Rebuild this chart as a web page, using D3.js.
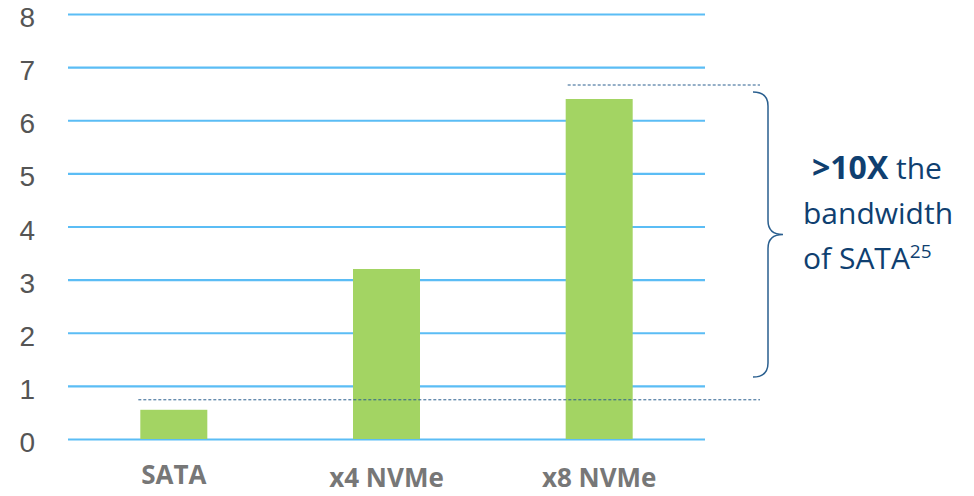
<!DOCTYPE html>
<html>
<head>
<meta charset="utf-8">
<script src="https://cdn.jsdelivr.net/npm/d3@7"></script>
<style>
  body { margin: 0; background: #fff; }
  svg { display: block; font-family: "Open Sans", "Noto Sans", sans-serif; }
</style>
</head>
<body>
<div class="chart"></div>
<script>
var categories = ["SATA", "x4 NVMe", "x8 NVMe"];
var bandwidth = [0.55, 3.2, 6.4];
var yTicks = [0, 1, 2, 3, 4, 5, 6, 7, 8];

var width = 974, height = 496;

var svg = d3.select("div.chart").append("svg")
  .attr("width", width)
  .attr("height", height);

var xScale = d3.scaleBand()
  .domain(categories)
  .range([68, 705])
  .paddingInner(0.685)
  .paddingOuter(0.34);

var yScale = d3.scaleLinear()
  .domain([0, 8])
  .range([439, 14]);

// gridlines
var yAxis = d3.axisLeft(yScale)
  .tickValues(yTicks)
  .tickSize(-(705 - 68))
  .tickPadding(33);

var yG = svg.append("g")
  .attr("transform", "translate(68,0)")
  .call(yAxis);
yG.select(".domain").remove();
yG.selectAll(".tick line")
  .attr("stroke", "#5bbdf5")
  .attr("stroke-width", 2.2);
yG.selectAll(".tick text")
  .attr("fill", "#555")
  .attr("dy", "0.45em")
  .style("font-size", "28px")
  .attr("font-family", null);

// bars
svg.append("g").selectAll("rect")
  .data(bandwidth)
  .enter()
  .append("rect")
  .attr("x", function(d, i) { return xScale(categories[i]); })
  .attr("y", function(d) { return yScale(d); })
  .attr("width", xScale.bandwidth())
  .attr("height", function(d) { return yScale(0) - yScale(d); })
  .attr("fill", "#a3d463");

// category labels (SATA sits a little higher in the original)
var labelOffset = [45, 48, 48];
svg.append("g").selectAll("text")
  .data(categories)
  .enter()
  .append("text")
  .attr("x", function(d) { return xScale(d) + xScale.bandwidth() / 2; })
  .attr("y", function(d, i) { return yScale(0) + labelOffset[i]; })
  .attr("text-anchor", "middle")
  .attr("fill", "#777")
  .style("font-size", "26px")
  .style("font-weight", "bold")
  .text(function(d) { return d; });

// dashed reference lines at SATA and x8 levels
var dashLines = [
  { v: bandwidth[0], x0: xScale(categories[0]) - 2, lift: 10 },
  { v: bandwidth[2], x0: xScale(categories[2]) + 2, lift: 14 }
];
svg.append("g").selectAll("line")
  .data(dashLines)
  .enter()
  .append("line")
  .attr("x1", function(d) { return d.x0; })
  .attr("x2", 760)
  .attr("y1", function(d) { return yScale(d.v) - d.lift; })
  .attr("y2", function(d) { return yScale(d.v) - d.lift; })
  .attr("stroke", "#2a5f8f")
  .attr("stroke-width", 1)
  .attr("stroke-dasharray", "3,2");

// curly bracket
var braceTop = 92, braceBot = 377, braceMid = (braceTop + braceBot) / 2;
var bx = 768, r = 14;
var brace = d3.path();
brace.moveTo(bx - 15, braceTop);
brace.quadraticCurveTo(bx, braceTop, bx, braceTop + r);
brace.lineTo(bx, braceMid - r);
brace.quadraticCurveTo(bx, braceMid, bx + 15, braceMid);
brace.moveTo(bx + 15, braceMid);
brace.quadraticCurveTo(bx, braceMid, bx, braceMid + r);
brace.lineTo(bx, braceBot - r);
brace.quadraticCurveTo(bx, braceBot, bx - 15, braceBot);
svg.append("path")
  .attr("d", brace.toString())
  .attr("fill", "none")
  .attr("stroke", "#2a5f8f")
  .attr("stroke-width", 1.5);

// annotation
var note = svg.append("text")
  .attr("fill", "#0f3f70")
  .style("font-size", "30px");
var l1 = note.append("tspan").attr("x", 812).attr("y", 179);
l1.append("tspan").style("font-weight", "bold").style("font-size", "32px").text(">10X");
l1.append("tspan").text(" the");
note.append("tspan").attr("x", 803).attr("y", 224).text("bandwidth");
var l3 = note.append("tspan").attr("x", 803).attr("y", 269);
l3.append("tspan").text("of SATA");
l3.append("tspan").attr("dy", -11).style("font-size", "19px").text("25");
</script>
</body>
</html>
